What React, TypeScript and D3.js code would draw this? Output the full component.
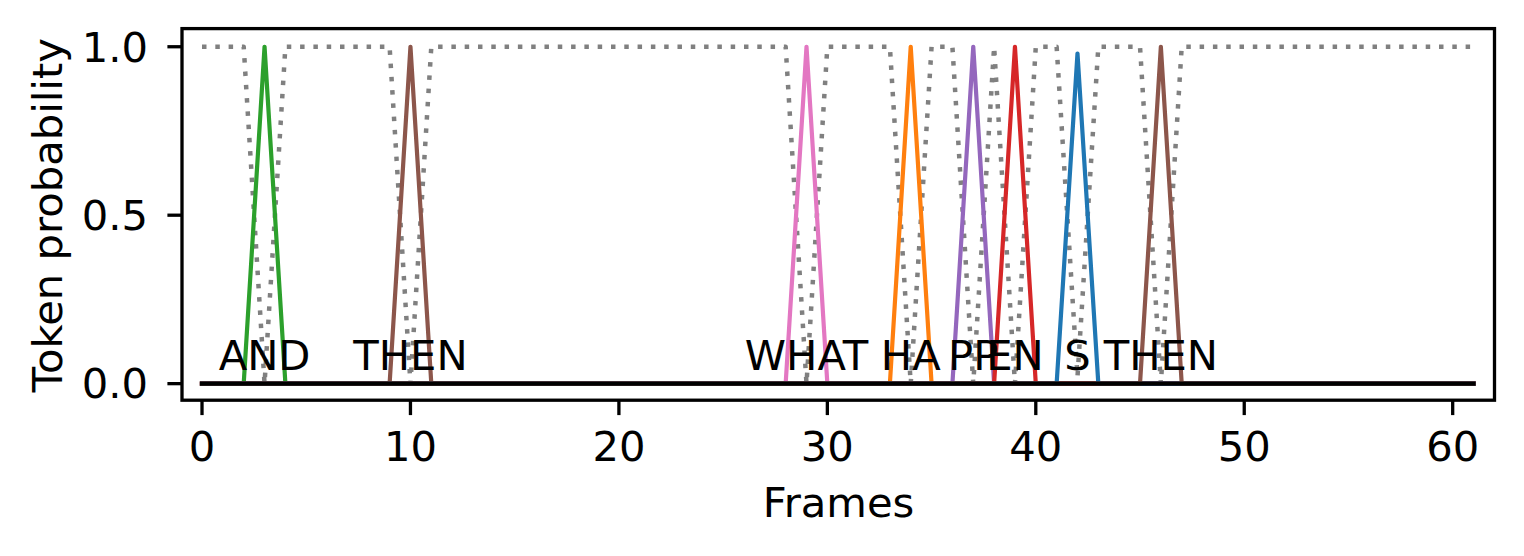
import React from "react";
import * as d3 from "d3";

// frame index of every sample
const frames = [
  0, 1, 2, 3, 4, 5, 6, 7, 8, 9, 10, 11, 12, 13, 14, 15, 16, 17, 18, 19, 20,
  21, 22, 23, 24, 25, 26, 27, 28, 29, 30, 31, 32, 33, 34, 35, 36, 37, 38, 39,
  40, 41, 42, 43, 44, 45, 46, 47, 48, 49, 50, 51, 52, 53, 54, 55, 56, 57, 58,
  59, 60, 61,
];

// blank token probability (gray dotted)
const blankProb = [
  1, 1, 1, 0, 1, 1, 1, 1, 1, 1, 0, 1, 1, 1, 1, 1, 1, 1, 1, 1, 1,
  1, 1, 1, 1, 1, 1, 1, 1, 0, 1, 1, 1, 1, 0, 1, 1, 0, 1, 0,
  1, 1, 0.02, 1, 1, 1, 0, 1, 1, 1, 1, 1, 1, 1, 1, 1, 1, 1, 1,
  1, 1, 1,
];

// black line at the bottom
const otherProb = [
  0, 0, 0, 0, 0, 0, 0, 0, 0, 0, 0, 0, 0, 0, 0, 0, 0, 0, 0, 0, 0,
  0, 0, 0, 0, 0, 0, 0, 0, 0, 0, 0, 0, 0, 0, 0, 0, 0, 0, 0,
  0, 0, 0, 0, 0, 0, 0, 0, 0, 0, 0, 0, 0, 0, 0, 0, 0, 0, 0,
  0, 0, 0,
];

// emitted tokens
const tokenLabels = ["AND", "THEN", "WHAT", "HA", "PP", "EN", "S", "THEN"];
const tokenFrames = [3, 10, 29, 34, 37, 39, 42, 46];
const tokenPeaks = [1, 1, 1, 1, 1, 1, 0.98, 1];
const tokenColors = [
  "#2ca02c", "#8c564b", "#e377c2", "#ff7f0e",
  "#9467bd", "#d62728", "#1f77b4", "#8c564b",
];

const xTicks = [0, 10, 20, 30, 40, 50, 60];
const yTicks = [0, 0.5, 1.0];

const FONT = "DejaVu Sans";
const FS = 41.7;

export default function App() {
  const width = 1524;
  const height = 556;
  const left = 182, right = 1495, top = 29.9, bottom = 400.5;

  const x = d3.scaleLinear().domain([-0.96, 62.03]).range([left, right]);
  const y = d3.scaleLinear().domain([-0.05, 1.05]).range([bottom, top]);

  const line = d3
    .line<[number, number]>()
    .x((d) => x(d[0]))
    .y((d) => y(d[1]));

  const blankPts = frames.map((f, i) => [f, blankProb[i]] as [number, number]);
  const otherPts = frames.map((f, i) => [f, otherProb[i]] as [number, number]);

  const tokenSeries = tokenFrames.map((tf, k) =>
    frames.map((f) => [f, f === tf ? tokenPeaks[k] : 0] as [number, number])
  );

  return (
    <svg
      width={width}
      height={height}
      style={{ position: "absolute", left: 0, top: 0, background: "#fff" }}
      fontFamily={FONT}
    >
      <defs>
        <clipPath id="plot">
          <rect x={left} y={top - 1} width={right - left} height={bottom - top + 1} />
        </clipPath>
      </defs>

      <g clipPath="url(#plot)">
        {/* blank probability */}
        <path
          d={line(blankPts) || ""}
          fill="none"
          stroke="#808080"
          strokeWidth={4.5}
          strokeDasharray="4.5 8.8"
          strokeLinejoin="round"
        />
        {/* token lines */}
        {tokenSeries.map((s, k) => (
          <path
            key={k}
            d={line(s) || ""}
            fill="none"
            stroke={tokenColors[k]}
            strokeWidth={4.2}
            strokeLinecap="square"
            strokeLinejoin="round"
          />
        ))}
        <path
          d={line(otherPts) || ""}
          fill="none"
          stroke="#000"
          strokeWidth={4.2}
          strokeLinecap="square"
        />
      </g>

      {/* token labels */}
      {tokenLabels.map((t, k) => (
        <text
          key={k}
          x={x(tokenFrames[k])}
          y={y(0.04)}
          textAnchor="middle"
          fontSize={FS}
          fill="#000"
        >
          {t}
        </text>
      ))}

      {/* frame */}
      <rect
        x={left}
        y={top - 1.3}
        width={right - 0.5 - left}
        height={bottom - 0.3 - top + 1.3}
        fill="none"
        stroke="#000"
        strokeWidth={3.3}
      />

      {/* x axis */}
      {xTicks.map((t) => (
        <g key={t}>
          <line x1={x(t)} x2={x(t)} y1={bottom} y2={bottom + 14.6} stroke="#000" strokeWidth={3.3} />
          <text x={x(t)} y={460.5} textAnchor="middle" fontSize={FS} fill="#000">
            {t}
          </text>
        </g>
      ))}
      <text x={(left + right) / 2} y={517} textAnchor="middle" fontSize={FS} fill="#000">
        Frames
      </text>

      {/* y axis */}
      {yTicks.map((t) => (
        <g key={t}>
          <line x1={left - 14.6} x2={left} y1={y(t)} y2={y(t)} stroke="#000" strokeWidth={3.3} />
          <text x={148} y={y(t) + 14.8} textAnchor="end" fontSize={FS} fill="#000">
            {d3.format(".1f")(t)}
          </text>
        </g>
      ))}
      <text
        transform={`translate(62, ${(top + bottom) / 2}) rotate(-90)`}
        textAnchor="middle"
        fontSize={FS}
        fill="#000"
      >
        Token probability
      </text>
    </svg>
  );
}
